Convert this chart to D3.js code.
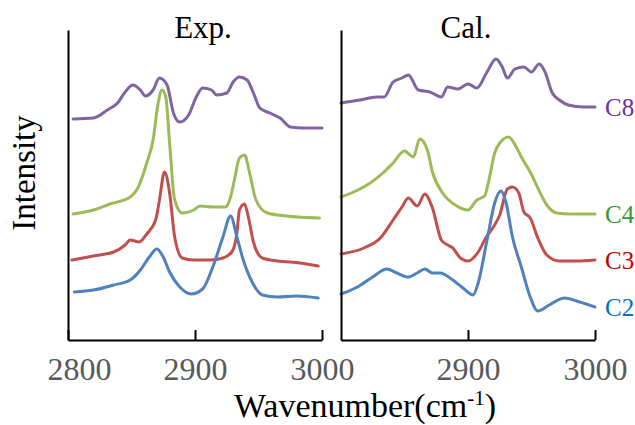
<!DOCTYPE html>
<html>
<head>
<meta charset="utf-8">
<script src="https://cdn.jsdelivr.net/npm/d3@7"></script>
</head>
<body style="margin:0;background:#fff">
<svg id="chart" width="635" height="425" style="display:block"></svg>
<script>
// ---- data: [wavenumber (cm-1), intensity (a.u., offset-stacked)] ----
const panelTitles = ["Exp.", "Cal."];
const seriesNames = ["C8", "C4", "C3", "C2"];
const leftTicks = [2800, 2900, 3000];
const rightTicks = [2900, 3000];

const expC8 = [[2804,221],[2820,222],[2831,230],[2839,237],[2845,248],[2851,255],[2857,250],[2861,244],[2867,250],[2872,262],[2878,255],[2883,227],[2888,218],[2895,225],[2901,243],[2906,252],[2913,250],[2917,245],[2925,247],[2930,258],[2935,263],[2941,260],[2946,247],[2951,232],[2959,227],[2967,222],[2975,213],[2985,212],[3000,212]];
const expC4 = [[2804,126],[2820,130],[2833,136],[2849,143],[2855,152],[2862,177],[2867,200],[2871,237],[2874,250],[2877,243],[2880,197],[2884,140],[2890,127],[2899,130],[2904,134],[2914,133],[2924,133],[2928,143],[2931,160],[2935,182],[2939,185],[2943,167],[2948,140],[2957,127],[2972,124],[2998,122]];
const expC3 = [[2803,80],[2820,84],[2836,88],[2845,95],[2849,100],[2856,98],[2862,106],[2869,120],[2872,140],[2876,168],[2880,147],[2884,103],[2890,82],[2899,80],[2912,80],[2922,82],[2929,88],[2933,107],[2935,130],[2939,136],[2942,123],[2946,98],[2953,82],[2965,79],[2983,77],[2997,74]];
const expC2 = [[2805,48],[2820,50],[2836,55],[2849,60],[2857,70],[2864,83],[2870,91],[2875,83],[2880,68],[2888,53],[2897,46],[2906,51],[2914,73],[2922,103],[2928,124],[2933,103],[2938,80],[2945,58],[2953,45],[2965,43],[2980,44],[2997,42]];

const calC8 = [[2800,237],[2815,240],[2828,243],[2834,243],[2841,258],[2848,262],[2853,265],[2861,250],[2870,248],[2879,243],[2884,253],[2892,251],[2900,256],[2907,252],[2915,268],[2922,281],[2927,273],[2931,262],[2937,271],[2944,273],[2950,268],[2956,276],[2961,267],[2966,248],[2972,240],[2979,235],[2991,233],[3000,233]];
const calC4 = [[2800,143],[2810,148],[2823,157],[2833,167],[2841,177],[2850,189],[2857,183],[2862,201],[2868,190],[2872,168],[2880,147],[2890,135],[2900,130],[2907,140],[2913,144],[2916,157],[2921,187],[2925,197],[2932,203],[2938,193],[2942,183],[2949,168],[2955,152],[2962,135],[2970,127],[2980,126],[3000,126]];
const calC3 = [[2800,86],[2818,92],[2831,102],[2841,120],[2848,133],[2853,142],[2860,134],[2866,146],[2872,132],[2879,100],[2884,95],[2888,92],[2894,82],[2900,79],[2908,88],[2914,102],[2920,113],[2925,125],[2931,151],[2935,153],[2940,147],[2944,128],[2949,122],[2955,102],[2962,85],[2972,79],[2986,79],[3000,80]];
const calC2 = [[2800,46],[2813,53],[2825,63],[2836,71],[2844,67],[2853,63],[2860,67],[2866,71],[2872,67],[2878,67],[2888,60],[2896,52],[2904,45],[2908,57],[2915,100],[2921,137],[2926,149],[2930,137],[2935,103],[2942,73],[2949,43],[2955,29],[2964,35],[2976,42],[2988,38],[3000,33]];

const lineColors = ["#8064a2", "#9bbb59", "#c0504d", "#4f81bd"];
const labelColors = ["#7030a0", "#339933", "#c00000", "#0070c0"];
const FONT = "Liberation Serif";

// ---- drawing ----
const svg = d3.select("#chart").attr("font-family", FONT);
const y = d3.scaleLinear().domain([0, 310]).range([340, 30]);

const panels = [
  { title: panelTitles[0], range: [68, 322], ticks: leftTicks, series: [expC8, expC4, expC3, expC2], titleX: 203 },
  { title: panelTitles[1], range: [341, 595], ticks: rightTicks, series: [calC8, calC4, calC3, calC2], titleX: 466 }
];

function serif(sel, size) {
  return sel.attr("font-family", FONT).style("font-family", FONT).style("font-size", size + "px");
}

panels.forEach((p, pi) => {
  const x = d3.scaleLinear().domain([2800, 3000]).range(p.range);

  const line = d3.line()
    .x(d => x(d[0]))
    .y(d => y(d[1]))
    .curve(d3.curveMonotoneX);

  const g = svg.append("g");

  p.series.forEach((s, si) => {
    g.append("path")
      .datum(s)
      .attr("d", line)
      .attr("fill", "none")
      .attr("stroke", lineColors[si])
      .attr("stroke-width", 3)
      .attr("stroke-linejoin", "round")
      .attr("stroke-linecap", "round");
  });

  // x axis
  const xa = g.append("g")
    .attr("transform", `translate(0,${y(0)})`)
    .call(d3.axisBottom(x).tickValues(p.ticks).tickSizeInner(-10).tickSizeOuter(0).tickFormat(d3.format("d")));
  xa.attr("font-family", FONT).attr("font-size", 32);
  xa.select(".domain").attr("stroke", "#000").attr("stroke-width", 2);
  xa.selectAll(".tick line").attr("stroke", "#000").attr("stroke-width", 2);
  serif(xa.selectAll(".tick text"), 32)
    .attr("y", 40).attr("dy", 0)
    .attr("fill", "#595959")
    .attr("dx", d => (d === 2800 ? 11 : 0));

  // y axis (line only)
  const ya = g.append("g")
    .attr("transform", `translate(${p.range[0]},0)`)
    .call(d3.axisLeft(y).tickValues([]).tickSizeOuter(0));
  ya.select(".domain").attr("stroke", "#000").attr("stroke-width", 2);

  // panel title
  serif(g.append("text"), 31)
    .attr("x", p.titleX).attr("y", 38)
    .attr("text-anchor", "middle")
    .attr("fill", "#000")
    .text(p.title);

  // series labels on right panel
  if (pi === 1) {
    p.series.forEach((s, si) => {
      const last = s[s.length - 1];
      serif(g.append("text"), 25)
        .attr("x", x(last[0]) + 10)
        .attr("y", y(last[1]))
        .attr("dy", "0.35em")
        .attr("fill", labelColors[si])
        .text(seriesNames[si]);
    });
  }
});

// axis titles
serif(svg.append("text"), 33)
  .attr("transform", "translate(35,173) rotate(-90)")
  .attr("text-anchor", "middle")
  .attr("fill", "#000")
  .text("Intensity");

const xt = serif(svg.append("text"), 34)
  .attr("x", 365).attr("y", 417)
  .attr("text-anchor", "middle")
  .attr("fill", "#000");
xt.append("tspan").text("Wavenumber(cm");
xt.append("tspan").attr("dy", -12).style("font-size", "21px").text("-1");
xt.append("tspan").attr("dy", 12).text(")");
</script>
</body>
</html>
